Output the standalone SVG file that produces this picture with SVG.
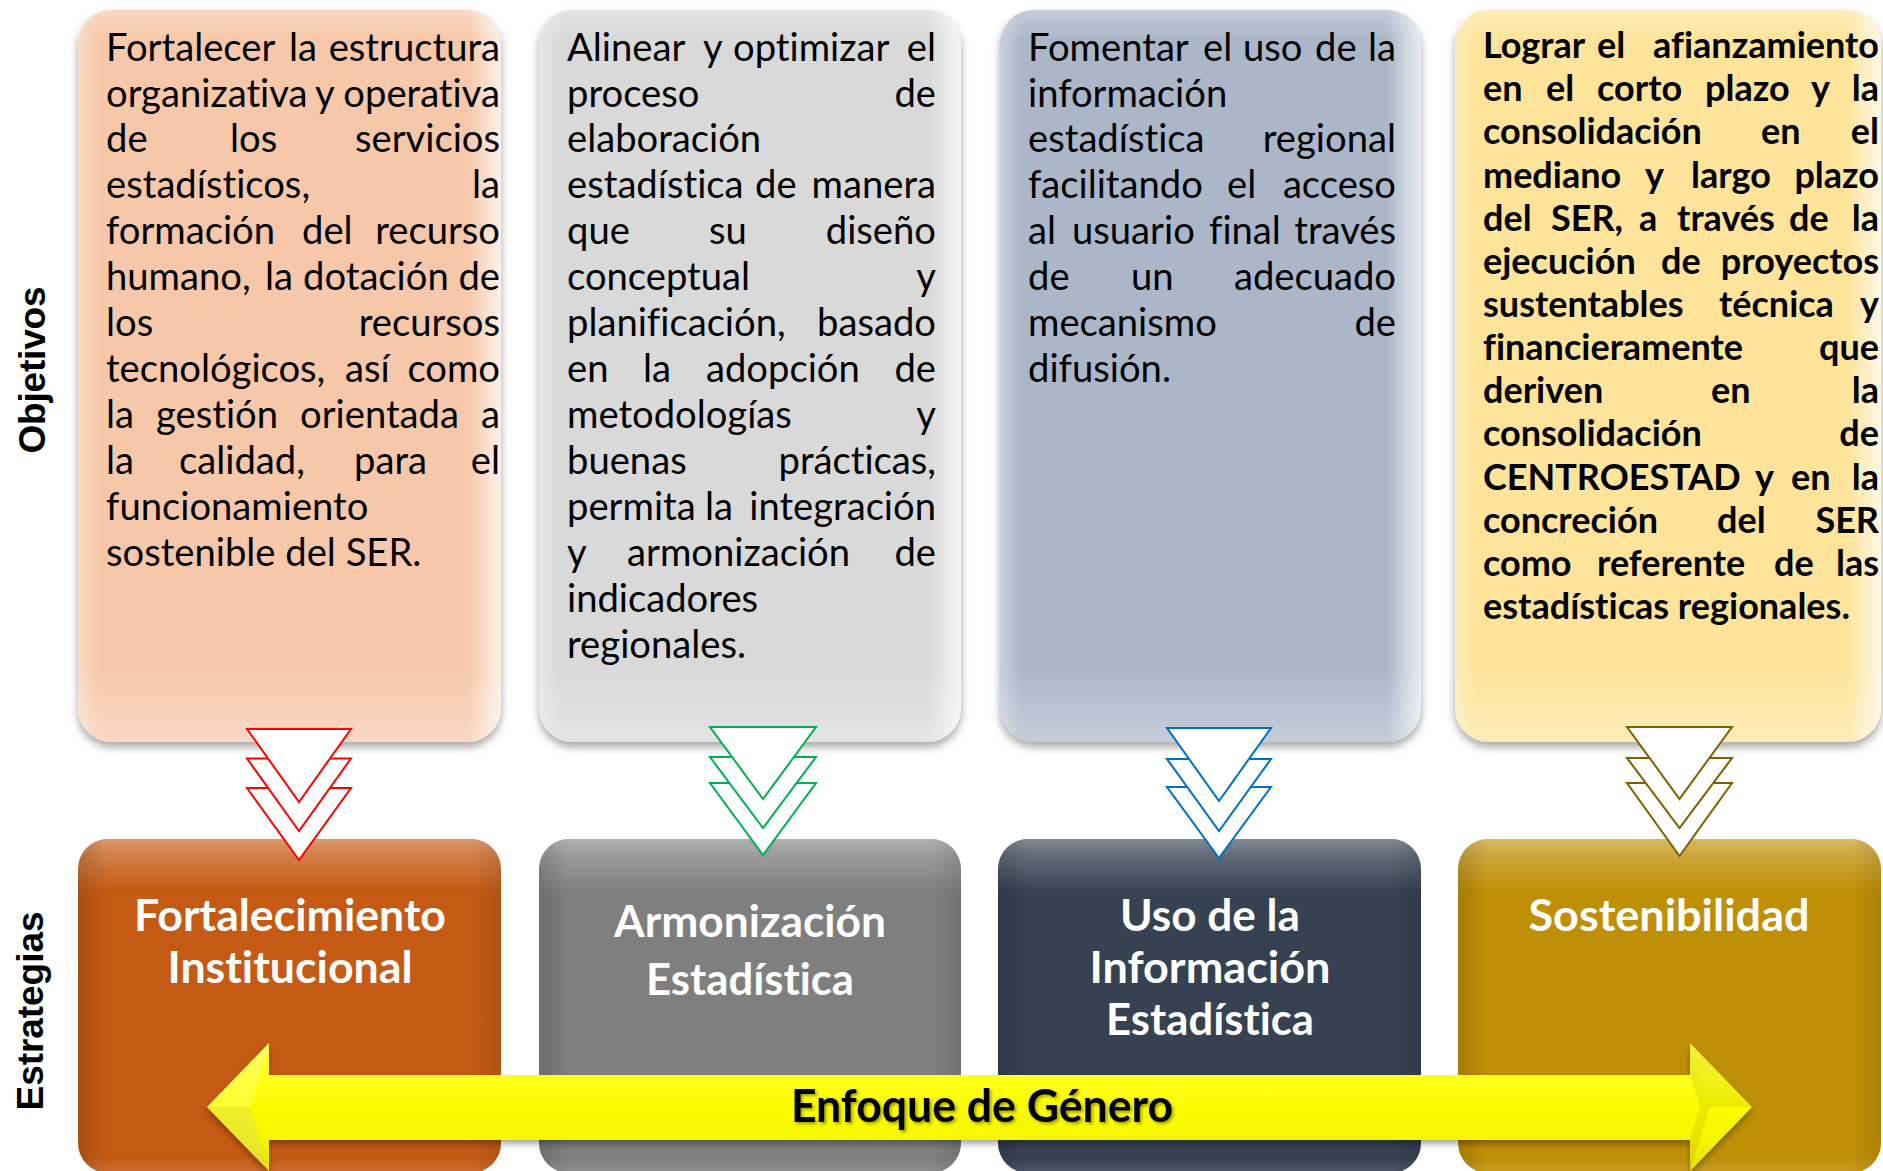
<svg xmlns="http://www.w3.org/2000/svg" width="1883" height="1171" viewBox="0 0 1883 1171">
<defs>
<style>
.body{font-family:Lato,"Open Sans","Liberation Sans",sans-serif;font-size:38.2px;fill:#000;font-variant-ligatures:none}
.bold{font-weight:700;font-size:36px}
.r{text-anchor:end}
.lbl{font-family:Lato,"Liberation Sans",sans-serif;font-weight:700;font-size:44px;fill:#fff;text-anchor:middle;font-variant-ligatures:none}
.side{font-family:"Liberation Sans",Arial,sans-serif;font-weight:700;font-size:37px;fill:#000;text-anchor:middle}
.tri{fill:#fff;stroke-width:2;stroke-linejoin:miter}
</style>
<filter id="sh" x="-5%" y="-5%" width="110%" height="112%"><feDropShadow dx="0" dy="5" stdDeviation="4" flood-color="#000" flood-opacity="0.35"/></filter>
<filter id="ash" x="-5%" y="-20%" width="110%" height="150%"><feDropShadow dx="0" dy="4" stdDeviation="3" flood-color="#000" flood-opacity="0.35"/></filter>
<filter id="tsh" x="-5%" y="-20%" width="110%" height="140%"><feDropShadow dx="2" dy="2" stdDeviation="1.5" flood-color="#000" flood-opacity="0.35"/></filter>
<linearGradient id="tH" x1="0" y1="0" x2="1" y2="0">
<stop offset="0" stop-color="#fff" stop-opacity="0.35"/><stop offset="0.05" stop-color="#fff" stop-opacity="0"/><stop offset="0.92" stop-color="#fff" stop-opacity="0"/><stop offset="1" stop-color="#fff" stop-opacity="0.75"/>
</linearGradient>
<linearGradient id="tV" x1="0" y1="0" x2="0" y2="1">
<stop offset="0" stop-color="#fff" stop-opacity="0.3"/><stop offset="0.04" stop-color="#fff" stop-opacity="0"/><stop offset="0.9" stop-color="#fff" stop-opacity="0"/><stop offset="1" stop-color="#fff" stop-opacity="0.3"/>
</linearGradient>
<linearGradient id="bV" x1="0" y1="0" x2="0" y2="1">
<stop offset="0" stop-color="#fff" stop-opacity="0.38"/><stop offset="0.05" stop-color="#fff" stop-opacity="0.22"/><stop offset="0.16" stop-color="#fff" stop-opacity="0"/><stop offset="0.95" stop-color="#fff" stop-opacity="0"/><stop offset="1" stop-color="#fff" stop-opacity="0.12"/>
</linearGradient>
<linearGradient id="bH" x1="0" y1="0" x2="1" y2="0">
<stop offset="0" stop-color="#000" stop-opacity="0.14"/><stop offset="0.07" stop-color="#000" stop-opacity="0"/><stop offset="0.93" stop-color="#000" stop-opacity="0"/><stop offset="1" stop-color="#000" stop-opacity="0.1"/>
</linearGradient>
<linearGradient id="yel" x1="0" y1="1043" x2="0" y2="1171" gradientUnits="userSpaceOnUse">
<stop offset="0" stop-color="#ffff40"/><stop offset="0.3" stop-color="#ffff18"/><stop offset="0.5" stop-color="#fbfb00"/><stop offset="0.75" stop-color="#f6f600"/><stop offset="1" stop-color="#e4e400"/>
</linearGradient>
</defs>
<rect width="1883" height="1171" fill="#fff"/>

<text class="side" transform="translate(45,370) rotate(-90)" textLength="167">Objetivos</text>
<text class="side" transform="translate(43,1011) rotate(-90)" textLength="199">Estrategias</text>

<g id="obj1">
<rect x="78" y="10" width="423" height="732" rx="34" fill="#f6c8a9" filter="url(#sh)"/>
<rect x="78" y="10" width="423" height="732" rx="34" fill="url(#tH)"/>
<rect x="78" y="10" width="423" height="732" rx="34" fill="url(#tV)"/>
<g class="body">
<text y="60.5"><tspan x="106">Fortalecer</tspan><tspan x="289">la</tspan></text><text class="r" x="500" y="60.5">estructura</text>
<text y="106.5"><tspan x="106">organizativa</tspan><tspan x="315">y</tspan></text><text class="r" x="500" y="106.5">operativa</text>
<text y="152.4"><tspan x="106">de</tspan><tspan x="230">los</tspan></text><text class="r" x="500" y="152.4">servicios</text>
<text y="198.4"><tspan x="106">estadísticos,</tspan></text><text class="r" x="500" y="198.4">la</text>
<text y="244.3"><tspan x="106">formación</tspan><tspan x="302">del</tspan></text><text class="r" x="500" y="244.3">recurso</text>
<text y="290.3"><tspan x="106">humano,</tspan><tspan x="265">la</tspan><tspan x="303">dotación</tspan></text><text class="r" x="500" y="290.3">de</text>
<text y="336.2"><tspan x="106">los</tspan></text><text class="r" x="500" y="336.2">recursos</text>
<text y="382.2"><tspan x="106">tecnológicos,</tspan><tspan x="345">así</tspan></text><text class="r" x="500" y="382.2">como</text>
<text y="428.1"><tspan x="106">la</tspan><tspan x="156">gestión</tspan><tspan x="300">orientada</tspan></text><text class="r" x="500" y="428.1">a</text>
<text y="474.1"><tspan x="106">la</tspan><tspan x="179">calidad,</tspan><tspan x="354">para</tspan></text><text class="r" x="500" y="474.1">el</text>
<text x="106" y="520">funcionamiento</text>
<text x="106" y="566">sostenible del SER.</text>
</g>
</g>

<g id="obj2">
<rect x="539" y="10" width="422" height="732" rx="34" fill="#d9d9d9" filter="url(#sh)"/>
<rect x="539" y="10" width="422" height="732" rx="34" fill="url(#tH)"/>
<rect x="539" y="10" width="422" height="732" rx="34" fill="url(#tV)"/>
<g class="body">
<text y="60.5"><tspan x="567">Alinear</tspan><tspan x="703">y</tspan><tspan x="733">optimizar</tspan></text><text class="r" x="936" y="60.5">el</text>
<text y="106.5"><tspan x="567">proceso</tspan></text><text class="r" x="936" y="106.5">de</text>
<text x="567" y="152.4">elaboración</text>
<text y="198.4"><tspan x="567">estadística</tspan><tspan x="755">de</tspan></text><text class="r" x="936" y="198.4">manera</text>
<text y="244.3"><tspan x="567">que</tspan><tspan x="709">su</tspan></text><text class="r" x="936" y="244.3">diseño</text>
<text y="290.3"><tspan x="567">conceptual</tspan></text><text class="r" x="936" y="290.3">y</text>
<text y="336.2"><tspan x="567">planificación,</tspan></text><text class="r" x="936" y="336.2">basado</text>
<text y="382.2"><tspan x="567">en</tspan><tspan x="643">la</tspan><tspan x="706">adopción</tspan></text><text class="r" x="936" y="382.2">de</text>
<text y="428.1"><tspan x="567">metodologías</tspan></text><text class="r" x="936" y="428.1">y</text>
<text y="474.1"><tspan x="567">buenas</tspan></text><text class="r" x="936" y="474.1">prácticas,</text>
<text y="520"><tspan x="567">permita</tspan><tspan x="705">la</tspan></text><text class="r" x="936" y="520">integración</text>
<text y="566"><tspan x="567">y</tspan><tspan x="627">armonización</tspan></text><text class="r" x="936" y="566">de</text>
<text x="567" y="611.9">indicadores</text>
<text x="567" y="657.9">regionales.</text>
</g>
</g>

<g id="obj3">
<rect x="1000" y="10" width="421" height="732" rx="34" fill="#abb7c9" filter="url(#sh)"/>
<rect x="1000" y="10" width="421" height="732" rx="34" fill="url(#tH)"/>
<rect x="1000" y="10" width="421" height="732" rx="34" fill="url(#tV)"/>
<g class="body">
<text y="60.5"><tspan x="1028">Fomentar</tspan><tspan x="1203">el</tspan><tspan x="1243">uso</tspan><tspan x="1315">de</tspan></text><text class="r" x="1396" y="60.5">la</text>
<text x="1028" y="106.5">información</text>
<text y="152.4"><tspan x="1028">estadística</tspan></text><text class="r" x="1396" y="152.4">regional</text>
<text y="198.4"><tspan x="1028">facilitando</tspan><tspan x="1227">el</tspan></text><text class="r" x="1396" y="198.4">acceso</text>
<text y="244.3"><tspan x="1028">al</tspan><tspan x="1072">usuario</tspan><tspan x="1209">final</tspan></text><text class="r" x="1396" y="244.3">través</text>
<text y="290.3"><tspan x="1028">de</tspan><tspan x="1131">un</tspan></text><text class="r" x="1396" y="290.3">adecuado</text>
<text y="336.2"><tspan x="1028">mecanismo</tspan></text><text class="r" x="1396" y="336.2">de</text>
<text x="1028" y="382.2">difusión.</text>
</g>
</g>

<g id="obj4">
<rect x="1455" y="10" width="426" height="732" rx="34" fill="#fde49a" filter="url(#sh)"/>
<rect x="1455" y="10" width="426" height="732" rx="34" fill="url(#tH)"/>
<rect x="1455" y="10" width="426" height="732" rx="34" fill="url(#tV)"/>
<g class="body bold">
<text y="58"><tspan x="1483">Lograr</tspan><tspan x="1597">el</tspan></text><text class="r" x="1879" y="58">afianzamiento</text>
<text y="101.2"><tspan x="1483">en</tspan><tspan x="1546">el</tspan><tspan x="1597">corto</tspan><tspan x="1705">plazo</tspan><tspan x="1811">y</tspan></text><text class="r" x="1879" y="101.2">la</text>
<text y="144.3"><tspan x="1483">consolidación</tspan><tspan x="1761">en</tspan></text><text class="r" x="1879" y="144.3">el</text>
<text y="187.5"><tspan x="1483">mediano</tspan><tspan x="1645">y</tspan><tspan x="1691">largo</tspan></text><text class="r" x="1879" y="187.5">plazo</text>
<text y="230.6"><tspan x="1483">del</tspan><tspan x="1551">SER,</tspan><tspan x="1639">a</tspan><tspan x="1677">través</tspan><tspan x="1789">de</tspan></text><text class="r" x="1879" y="230.6">la</text>
<text y="273.8"><tspan x="1483">ejecución</tspan><tspan x="1661">de</tspan></text><text class="r" x="1879" y="273.8">proyectos</text>
<text y="316.9"><tspan x="1483">sustentables</tspan><tspan x="1719">técnica</tspan></text><text class="r" x="1879" y="316.9">y</text>
<text y="360.1"><tspan x="1483">financieramente</tspan></text><text class="r" x="1879" y="360.1">que</text>
<text y="403.2"><tspan x="1483">deriven</tspan><tspan x="1711">en</tspan></text><text class="r" x="1879" y="403.2">la</text>
<text y="446.4"><tspan x="1483">consolidación</tspan></text><text class="r" x="1879" y="446.4">de</text>
<text y="489.5"><tspan x="1483">CENTROESTAD</tspan><tspan x="1755">y</tspan><tspan x="1791">en</tspan></text><text class="r" x="1879" y="489.5">la</text>
<text y="532.7"><tspan x="1483">concreción</tspan><tspan x="1717">del</tspan></text><text class="r" x="1879" y="532.7">SER</text>
<text y="575.8"><tspan x="1483">como</tspan><tspan x="1597">referente</tspan><tspan x="1774">de</tspan></text><text class="r" x="1879" y="575.8">las</text>
<text x="1483" y="619">estadísticas regionales.</text>
</g>
</g>

<g id="est1">
<rect x="78" y="839" width="423" height="334" rx="30" fill="#c55a14"/>
<rect x="78" y="839" width="423" height="334" rx="30" fill="url(#bV)"/>
<rect x="78" y="839" width="423" height="334" rx="30" fill="url(#bH)"/>
<text class="lbl" x="290" y="931" textLength="312" lengthAdjust="spacingAndGlyphs">Fortalecimiento</text>
<text class="lbl" x="290" y="983" textLength="245" lengthAdjust="spacingAndGlyphs">Institucional</text>
</g>
<g id="est2">
<rect x="539" y="839" width="422" height="334" rx="30" fill="#7f7f7f"/>
<rect x="539" y="839" width="422" height="334" rx="30" fill="url(#bV)"/>
<rect x="539" y="839" width="422" height="334" rx="30" fill="url(#bH)"/>
<text class="lbl" x="750" y="937" textLength="272" lengthAdjust="spacingAndGlyphs">Armonización</text>
<text class="lbl" x="750" y="995" textLength="208" lengthAdjust="spacingAndGlyphs">Estadística</text>
</g>
<g id="est3">
<rect x="998" y="839" width="423" height="334" rx="30" fill="#364152"/>
<rect x="998" y="839" width="423" height="334" rx="30" fill="url(#bV)"/>
<rect x="998" y="839" width="423" height="334" rx="30" fill="url(#bH)"/>
<text class="lbl" x="1210" y="931" textLength="180" lengthAdjust="spacingAndGlyphs">Uso de la</text>
<text class="lbl" x="1210" y="983" textLength="241" lengthAdjust="spacingAndGlyphs">Información</text>
<text class="lbl" x="1210" y="1035" textLength="208" lengthAdjust="spacingAndGlyphs">Estadística</text>
</g>
<g id="est4">
<rect x="1458" y="839" width="423" height="334" rx="30" fill="#bf8f06"/>
<rect x="1458" y="839" width="423" height="334" rx="30" fill="url(#bV)"/>
<rect x="1458" y="839" width="423" height="334" rx="30" fill="url(#bH)"/>
<text class="lbl" x="1669" y="931" textLength="281" lengthAdjust="spacingAndGlyphs">Sostenibilidad</text>
</g>

<g id="connectors">
<g id="genero">
<polygon points="207,1107 269,1043 269,1075 1690,1075 1690,1043 1752,1107 1690,1171 1690,1140 269,1140 269,1171" fill="url(#yel)" filter="url(#ash)"/>
<polygon points="207,1107 269,1043 250,1107 269,1171" fill="#fff" opacity="0.18"/>
<polygon points="207,1107 250,1107 269,1171" fill="#000" opacity="0.05"/>
<polygon points="1690,1043 1710,1107 1752,1107" fill="#000" opacity="0.06"/>
<polygon points="1690,1043 1710,1107 1690,1171 1690,1140 1700,1107 1690,1075" fill="#000" opacity="0.07"/>
<text x="982" y="1122" textLength="382" lengthAdjust="spacingAndGlyphs" style="font-family:Lato,'Liberation Sans',sans-serif;font-weight:700;font-size:46px;fill:#000;text-anchor:middle" filter="url(#tsh)">Enfoque de Género</text>
</g>
<g id="arrow1" stroke="#ff0000">
<polygon class="tri" points="247,788 351,788 299,860"/>
<polygon class="tri" points="247,758.5 351,758.5 299,831"/>
<polygon class="tri" points="247,729 351,729 299,802"/>
</g>
<g id="arrow2" stroke="#00b050">
<polygon class="tri" points="710,783 816,783 763,855"/>
<polygon class="tri" points="710,757 816,757 763,828"/>
<polygon class="tri" points="710,727 816,727 763,799"/>
</g>
<g id="arrow3" stroke="#0070c0">
<polygon class="tri" points="1167,787 1271,787 1219,858"/>
<polygon class="tri" points="1167,759 1271,759 1219,831"/>
<polygon class="tri" points="1167,728 1271,728 1219,801"/>
</g>
<g id="arrow4" stroke="#7f6000">
<polygon class="tri" points="1627,783 1732,783 1679.5,856"/>
<polygon class="tri" points="1627,758 1732,758 1679.5,828"/>
<polygon class="tri" points="1627,727 1732,727 1679.5,799"/>
</g>
</g>
</svg>
